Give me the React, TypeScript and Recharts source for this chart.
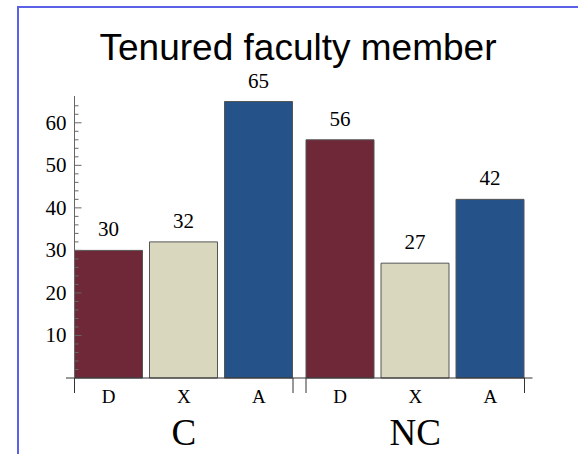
import { BarChart, Bar, XAxis, YAxis, LabelList } from 'recharts';

const categories = ['C', 'NC'];
const subLabels = ['D', 'X', 'A'];
const valuesD = [30, 56];
const valuesX = [32, 27];
const valuesA = [65, 42];
const yTicks = [0, 2, 4, 6, 8, 10, 12, 14, 16, 18, 20, 22, 24, 26, 28, 30, 32, 34, 36, 38, 40, 42, 44, 46, 48, 50, 52, 54, 56, 58, 60, 62, 64];

const COLORS: Record<string, string> = {
  D: '#6e2838',
  X: '#d9d8bf',
  A: '#26528a',
};

const SERIF = '"Liberation Serif", "DejaVu Serif", serif';
const AXIS = '#333';

const data = categories.map((name, i) => ({
  name,
  D: valuesD[i],
  X: valuesX[i],
  A: valuesA[i],
}));

// half width of one group of three bars, and spacing between bar centres
const HALF = 109.25;
const STEP = 75.2;

function XTick(props: any) {
  const { x, y, payload, index } = props;
  return (
    <g>
      <line x1={x - HALF} x2={x - HALF} y1={y} y2={y + 15} stroke={AXIS} />
      <line x1={x + HALF} x2={x + HALF} y1={y} y2={y + 15} stroke={AXIS} />
      {index === 0 && <line x1={x - HALF - 8.5} x2={x - HALF} y1={y} y2={y} stroke={AXIS} />}
      {index === categories.length - 1 && <line x1={x + HALF} x2={x + HALF + 8} y1={y} y2={y} stroke={AXIS} />}
      {subLabels.map((s, i) => (
        <text key={s} x={x + (i - 1) * STEP} y={y + 18} textAnchor="middle" dominantBaseline="central"
          style={{ fontFamily: SERIF, fontSize: 19 }} fill="#000">{s}</text>
      ))}
      <text x={x} y={y + 54} textAnchor="middle" dominantBaseline="central"
        style={{ fontFamily: SERIF, fontSize: 37 }} fill="#000">{payload.value}</text>
    </g>
  );
}

function YTick(props: any) {
  const { x, y, payload } = props;
  const major = payload.value % 10 === 0;
  return (
    <g>
      {payload.value > 0 && <line x1={x} x2={x + (major ? 7 : 4)} y1={y} y2={y} stroke="#666" />}
      {major && payload.value > 0 && (
        <text x={x - 8} y={y} textAnchor="end" dominantBaseline="central"
          style={{ fontFamily: SERIF, fontSize: 21 }} fill="#000">{payload.value}</text>
      )}
    </g>
  );
}

function ValueLabel(props: any) {
  const { x, y, width, value } = props;
  return (
    <text x={Number(x) + Number(width) / 2} y={Number(y) - 14} textAnchor="middle"
      style={{ fontFamily: SERIF, fontSize: 21 }} fill="#000">{value}</text>
  );
}

export default function App() {
  return (
    <div style={{ position: 'absolute', left: 0, top: 0, width: 578, height: 454, background: '#fff', overflow: 'hidden' }}>
      <div style={{
        position: 'absolute', left: 17, top: 6, right: 0, bottom: 0,
        borderLeft: '2px solid #5b61e6', borderTop: '2px solid #5b61e6',
      }} />
      <div style={{
        position: 'absolute', left: 48, width: 500, top: 31, textAlign: 'center', whiteSpace: 'nowrap',
        fontFamily: '"Liberation Sans", Arial, sans-serif', fontSize: 37, lineHeight: '34px', color: '#000',
      }}>
        Tenured faculty member
      </div>
      <div style={{ position: 'absolute', left: 0, top: 0 }}>
        <BarChart width={578} height={454} data={data}
          margin={{ top: 96, right: 53, bottom: 16, left: 14.5 }}
          barCategoryGap={6.5} barGap={7}>
          <XAxis dataKey="name" interval={0} height={60} padding={{ left: -6.5, right: -6 }}
            axisLine={{ stroke: AXIS }} tickLine={false} tickSize={0} tickMargin={0} tick={<XTick />} />
          <YAxis domain={[0, 66.3]} ticks={yTicks} interval={0} width={60}
            axisLine={{ stroke: '#666' }} tickLine={false} tickSize={0} tickMargin={0} tick={<YTick />} />
          {subLabels.map((k) => (
            <Bar key={k} dataKey={k} fill={COLORS[k]} stroke="#555" strokeWidth={1} isAnimationActive={false}>
              <LabelList dataKey={k} content={<ValueLabel />} />
            </Bar>
          ))}
        </BarChart>
      </div>
    </div>
  );
}
